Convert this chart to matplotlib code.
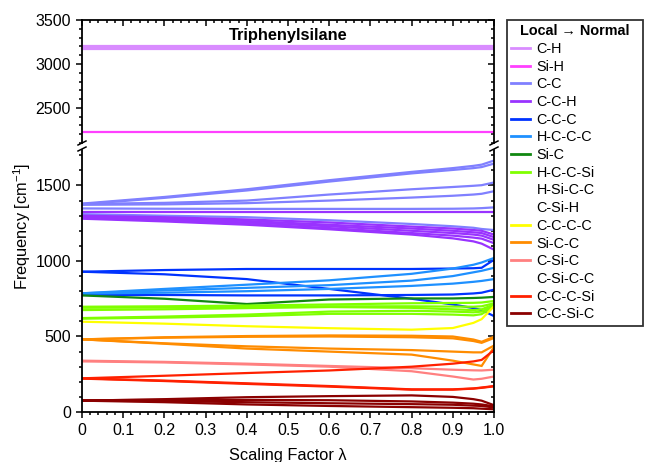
import numpy as np
import matplotlib
matplotlib.use('Agg')
import matplotlib.pyplot as plt
from matplotlib.lines import Line2D

plt.rcParams['font.family'] = ['Liberation Sans', 'DejaVu Sans']
plt.rcParams['mathtext.default'] = 'regular'

# scaling factor grid
lam = [0, 0.2, 0.4, 0.6, 0.8, 0.9, 0.95, 0.97, 1.0]

# frequencies [cm-1], one list per normal mode
c_h = [[3175] * 9, [3183] * 9, [3190] * 9, [3197] * 9, [3205] * 9]
si_h = [[2227] * 9]
c_c = [[1380, 1424, 1475, 1535, 1590, 1615, 1630, 1638, 1665],
       [1376, 1418, 1467, 1526, 1580, 1603, 1615, 1622, 1645],
       [1378, 1385, 1400, 1440, 1475, 1490, 1498, 1502, 1520],
       [1372, 1375, 1383, 1400, 1420, 1432, 1440, 1445, 1462],
       [1348, 1346, 1345, 1345, 1345, 1346, 1348, 1350, 1355],
       [1310, 1300, 1290, 1270, 1245, 1230, 1220, 1212, 1205]]
c_c_h = [[1322, 1322, 1322, 1322, 1322, 1322, 1322, 1322, 1322],
         [1300, 1290, 1275, 1255, 1228, 1215, 1205, 1200, 1175],
         [1295, 1282, 1265, 1240, 1215, 1200, 1190, 1185, 1158],
         [1290, 1275, 1255, 1230, 1200, 1185, 1175, 1168, 1140],
         [1285, 1268, 1245, 1218, 1185, 1168, 1155, 1148, 1118],
         [1280, 1262, 1240, 1210, 1175, 1150, 1130, 1115, 1075]]
c_c_c = [[929, 940, 947, 947, 947, 950, 952, 955, 1008],
         [929, 912, 880, 815, 750, 712, 688, 675, 635],
         [775, 775, 772, 772, 775, 778, 785, 790, 810]]
h_c_c_c = [[786, 815, 843, 872, 915, 950, 975, 990, 1020],
           [786, 805, 822, 840, 870, 900, 925, 935, 955],
           [784, 790, 800, 815, 835, 850, 862, 868, 880]]
si_c = [[772, 750, 715, 745, 752, 752, 755, 757, 762]]
h_c_c_si = [[697, 700, 705, 712, 720, 722, 723, 725, 735],
            [690, 692, 695, 700, 700, 698, 697, 700, 720],
            [675, 680, 688, 695, 690, 680, 675, 680, 712],
            [622, 632, 645, 665, 670, 665, 660, 665, 705],
            [618, 625, 635, 650, 650, 645, 640, 648, 700]]
c_c_c_c = [[598, 585, 568, 555, 545, 556, 590, 615, 700]]
si_c_c = [[481, 495, 503, 507, 505, 500, 480, 465, 498],
          [481, 492, 498, 500, 495, 488, 470, 458, 490],
          [481, 455, 435, 420, 410, 400, 395, 395, 440],
          [481, 452, 420, 400, 380, 340, 315, 305, 430]]
c_si_c = [[335, 328, 315, 300, 270, 235, 215, 220, 235],
          [340, 332, 320, 305, 290, 280, 276, 275, 280]]
c_c_c_si = [[223, 240, 258, 275, 300, 320, 335, 345, 410],
            [223, 208, 190, 172, 150, 148, 155, 160, 170],
            [221, 205, 186, 168, 148, 150, 156, 162, 172]]
c_c_si_c = [[75, 85, 98, 105, 110, 100, 85, 75, 45],
            [78, 80, 80, 78, 70, 62, 55, 50, 38],
            [75, 72, 65, 58, 52, 48, 42, 40, 30],
            [75, 65, 50, 40, 32, 28, 25, 22, 18]]

labels = ['C-H', 'Si-H', 'C-C', 'C-C-H', 'C-C-C', 'H-C-C-C', 'Si-C', 'H-C-C-Si',
          'H-Si-C-C', 'C-Si-H', 'C-C-C-C', 'Si-C-C', 'C-Si-C', 'C-Si-C-C',
          'C-C-C-Si', 'C-C-Si-C']
colors = ['#d98cff', '#ff40ff', '#8080ff', '#9933ff', '#0033ff', '#1e90ff', '#118811',
          '#80ff00', 'none', 'none', '#ffff00', '#ff8c00', '#ff8080', 'none',
          '#ff2000', '#8b0000']
groups = [c_h, si_h, c_c, c_c_h, c_c_c, h_c_c_c, si_c, h_c_c_si,
          [], [], c_c_c_c, si_c_c, c_si_c, [], c_c_c_si, c_c_si_c]

fig = plt.figure(figsize=(6.45, 4.62), dpi=100)
ax_top = fig.add_axes([82 / 645, 1 - 143 / 462, 412 / 645, 123 / 462])
ax_bot = fig.add_axes([82 / 645, 1 - 412 / 462, 412 / 645, 262 / 462])

lw = 1.6
for grp, col in zip(groups, colors):
    for f in grp:
        for ax in (ax_top, ax_bot):
            ax.plot(lam, f, color=col, lw=lw, solid_joinstyle='miter')

fs = 11.5
ax_top.set_yticks([2500, 3000, 3500])
ax_bot.set_yticks([0, 500, 1000, 1500])
for ax in (ax_top, ax_bot):
    ax.set_xticks(np.arange(0, 1.01, 0.1))
    ax.set_xticks(np.arange(0, 1.001, 0.02), minor=True)
    ax.set_yticks(np.arange(0, 3501, 100), minor=True)
    ax.set_xlim(0, 1)
    for s in ax.spines.values():
        s.set_linewidth(1.3)
    ax.tick_params(axis='y', which='both', left=True, right=True, labelsize=fs,
                   width=1.1, direction='out')
    ax.tick_params(axis='y', which='major', length=4.5)
    ax.tick_params(axis='y', which='minor', length=2.5)
ax_top.set_ylim(2100, 3500)
ax_bot.set_ylim(0, 1735)

ax_top.spines['bottom'].set_visible(False)
ax_bot.spines['top'].set_visible(False)
ax_top.tick_params(axis='x', which='both', bottom=False, labelbottom=False,
                   top=True, direction='in', width=1.1)
ax_top.tick_params(axis='x', which='major', length=4.5)
ax_top.tick_params(axis='x', which='minor', length=2.5)
ax_bot.tick_params(axis='x', which='both', top=False, direction='out',
                   labelsize=fs, width=1.1)
ax_bot.tick_params(axis='x', which='major', length=4.5)
ax_bot.tick_params(axis='x', which='minor', length=2.5)
# right-hand ticks point inward
for ax in (ax_top, ax_bot):
    for t in ax.yaxis.get_minor_ticks() + ax.yaxis.get_major_ticks():
        t.tick2line.set_marker(matplotlib.markers.TICKLEFT)
ax_bot.xaxis.set_major_formatter(plt.FuncFormatter(lambda v, p: '0' if v == 0 else f'{v:.1f}'))

# break marks
for xs in (82, 494):
    for yb in (143, 149):
        fig.add_artist(Line2D([(xs - 4) / 645, (xs + 4) / 645],
                              [1 - (yb + 2) / 462, 1 - (yb - 2) / 462],
                              color='black', lw=1.1))

ax_top.text(0.5, 0.87, 'Triphenylsilane', transform=ax_top.transAxes,
            ha='center', va='center', fontsize=11.8, fontweight='bold')
ax_bot.set_xlabel('Scaling Factor λ', fontsize=11.8, labelpad=7)
fig.text(22 / 645, 1 - 226 / 462, 'Frequency [cm$^{-1}$]', rotation=90,
         ha='center', va='center', fontsize=11.8)

handles = [Line2D([], [], color=c, lw=2) for c in colors]
leg = fig.legend(handles, labels, loc='upper left', mode='expand',
                 bbox_to_anchor=(507 / 645, 1 - 323 / 462, 136 / 645, 303 / 462),
                 fontsize=10.4, title='Local → Normal', title_fontsize=10.4,
                 frameon=True, fancybox=False, edgecolor='black', handlelength=1.3,
                 handletextpad=0.45, labelspacing=0.255, borderpad=0.3,
                 borderaxespad=0)
leg.get_title().set_fontweight('bold')
leg.get_frame().set_linewidth(1.3)

fig.savefig('out.png', dpi=100)
